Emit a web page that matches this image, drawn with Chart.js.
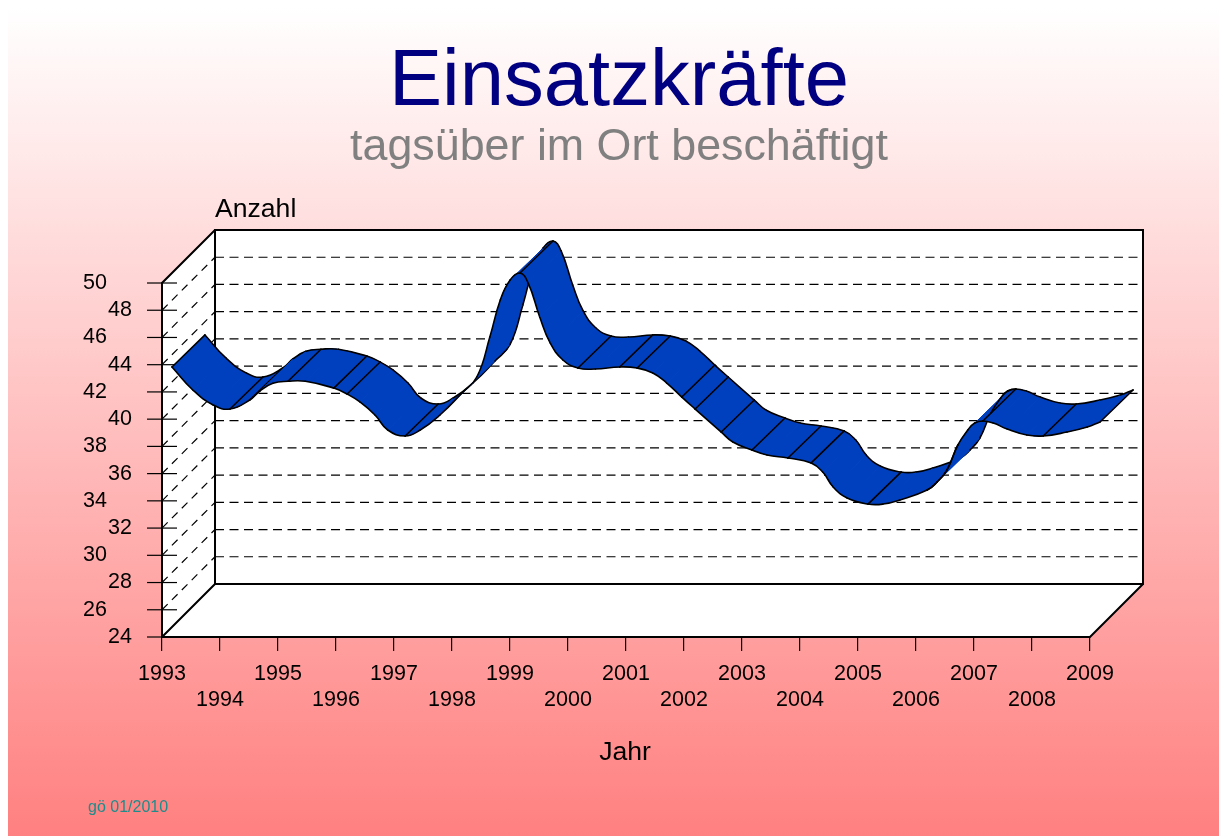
<!DOCTYPE html>
<html>
<head>
<meta charset="UTF-8">
<title>Einsatzkräfte</title>
<script src="https://cdnjs.cloudflare.com/ajax/libs/Chart.js/4.4.1/chart.umd.min.js"></script>
<style>
  html, body { margin: 0; padding: 0; background: #fff; overflow: hidden; }
  #bg { position: absolute; left: 8px; top: 8px; width: 1211px; height: 828px; background: linear-gradient(#ffffff, #ff8080); }
  canvas { position: absolute; left: 0; top: 0; }
</style>
</head>
<body>
<div id="bg"></div>
<canvas id="myChart" width="1219" height="836"></canvas>
<script>
// axis labels
const yearTicks = [1993, 1994, 1995, 1996, 1997, 1998, 1999, 2000, 2001, 2002, 2003, 2004, 2005, 2006, 2007, 2008, 2009];
const valueTicksInner = [24, 28, 32, 36, 40, 44, 48];
const valueTicksOuter = [26, 30, 34, 38, 42, 46, 50];

const years = [1993.00, 1993.36, 1993.71, 1994.00, 1994.34, 1994.52, 1994.74, 1995.00, 1995.30,
  1995.79, 1996.02, 1996.24, 1996.50, 1996.72, 1997.02, 1997.28, 1997.62, 1998.00, 1998.26,
  1998.48, 1998.66, 1998.83, 1999.00, 1999.14, 1999.34, 1999.52, 1999.74, 2000.00, 2000.30,
  2000.72, 2001.02, 2001.29, 2001.53, 2001.79, 2002.02, 2002.47, 2002.67, 2003.00, 2003.26,
  2003.62, 2004.02, 2004.22, 2004.40, 2004.64, 2005.00, 2005.26, 2005.55, 2006.02,
  2006.19, 2006.36, 2006.55, 2006.72, 2006.84, 2006.98, 2007.16, 2007.40, 2007.74, 2008.02,
  2008.43, 2008.78, 2009.00];
const einsatzkraefte = [43.1, 41.41, 40.31, 40.01, 40.67, 41.35, 41.9, 42.05, 42.05,
  41.55, 41.11, 40.53, 39.57, 38.47, 38.03, 38.47, 39.57, 41.19, 42.4,
  45.3, 48.02, 49.49, 50.0, 49.27, 46.77, 44.86, 43.61, 43.02, 42.95,
  43.1, 43.02, 42.66, 41.92, 40.89, 40.01, 38.32, 37.59, 37.0, 36.63,
  36.41, 36.05, 35.38, 34.28, 33.47, 33.03, 33.03, 33.33, 34.06,
  34.65, 35.53, 37.37, 38.47, 38.98, 39.13, 38.98, 38.54, 38.1, 38.03,
  38.32, 38.69, 39.06];
// where the ribbon shows a cross line
const crossLines = [1993.00, 1994.00, 1994.34, 1995.00, 1995.79, 1996.02, 1997.02, 1999.00, 2000.00, 2000.72,
  2001.02, 2001.79, 2002.02, 2002.47, 2003.00, 2003.62, 2004.02, 2005.00, 2006.98, 2008.02, 2009.00];
// edge pieces that stay visible at the 2006/07 fold
const foldFront = [2006.02, 2006.19, 2006.36];
const foldBack = [2006.55, 2006.72, 2006.84];

const FONT = '"Liberation Sans", Arial, sans-serif';
const ribbonColor = '#0040bf';
const points = years.map((y, i) => ({ x: y, y: einsatzkraefte[i] }));

const box3d = {
  id: 'box3d',
  beforeDatasetsDraw(chart) {
    const { ctx, scales } = chart;
    const x0 = scales.x.getPixelForValue(1993), x1 = scales.x.getPixelForValue(2009);
    const y0 = scales.y.getPixelForValue(24), y1 = scales.y.getPixelForValue(50);
    const bx0 = scales.xWall.getPixelForValue(1993), bx1 = scales.xWall.getPixelForValue(2009);
    const by0 = scales.yWall.getPixelForValue(24), by1 = scales.yWall.getPixelForValue(50);

    ctx.save();
    ctx.fillStyle = '#fff';
    ctx.beginPath();
    ctx.moveTo(x0, y1); ctx.lineTo(bx0, by1); ctx.lineTo(bx1, by1); ctx.lineTo(bx1, by0);
    ctx.lineTo(x1, y0); ctx.lineTo(x0, y0); ctx.closePath();
    ctx.fill();

    // dashed grid on back wall and side wall
    ctx.strokeStyle = '#000';
    ctx.lineWidth = 1.2;
    ctx.setLineDash([9, 5.5]);
    valueTicksInner.concat(valueTicksOuter).forEach(v => {
      if (v === 24 || v === 50) return;
      const yb = scales.yWall.getPixelForValue(v);
      ctx.beginPath(); ctx.moveTo(bx0, yb); ctx.lineTo(bx1, yb); ctx.stroke();
    });
    ctx.setLineDash([8, 6]);
    valueTicksInner.concat(valueTicksOuter).forEach(v => {
      if (v === 24 || v === 50) return;
      ctx.beginPath();
      ctx.moveTo(x0, scales.y.getPixelForValue(v));
      ctx.lineTo(bx0, scales.yWall.getPixelForValue(v));
      ctx.stroke();
    });
    ctx.setLineDash([]);

    // tick marks crossing the front edge
    ctx.lineWidth = 1.2;
    valueTicksInner.concat(valueTicksOuter).forEach(v => {
      const yt = scales.y.getPixelForValue(v);
      ctx.beginPath(); ctx.moveTo(x0 - 15, yt); ctx.lineTo(x0 + 15, yt); ctx.stroke();
    });

    // box outline
    ctx.lineWidth = 2;
    ctx.lineJoin = 'miter';
    ctx.strokeRect(bx0, by1, bx1 - bx0, by0 - by1);
    ctx.beginPath();
    ctx.moveTo(bx0, by1); ctx.lineTo(x0, y1); ctx.lineTo(x0, y0); ctx.lineTo(x1, y0); ctx.lineTo(bx1, by0);
    ctx.moveTo(x0, y0); ctx.lineTo(bx0, by0);
    ctx.stroke();
    ctx.restore();
  },
  afterDatasetsDraw(chart) {
    const { ctx, chartArea } = chart;
    const front = chart.getDatasetMeta(0);
    const back = chart.getDatasetMeta(1);
    front.dataset.updateControlPoints(chartArea, 'x');
    back.dataset.updateControlPoints(chartArea, 'x');
    const f = front.data, b = back.data;

    ctx.save();
    ctx.lineJoin = 'round';
    ctx.lineCap = 'round';
    ctx.strokeStyle = '#000';
    ctx.fillStyle = ribbonColor;
    ctx.lineWidth = 1.6;
    const curve = (p, q) => ctx.bezierCurveTo(p.cp2x, p.cp2y, q.cp1x, q.cp1y, q.x, q.y);
    const crossLine = i => {
      ctx.beginPath(); ctx.moveTo(f[i].x, f[i].y); ctx.lineTo(b[i].x, b[i].y); ctx.stroke();
    };
    const edge = (e, i) => {
      ctx.beginPath(); ctx.moveTo(e[i].x, e[i].y); curve(e[i], e[i + 1]); ctx.stroke();
    };

    // facets left to right, so that a later one hides what lies behind it
    for (let i = 0; i < f.length - 1; i++) {
      ctx.beginPath();
      ctx.moveTo(f[i].x, f[i].y);
      curve(f[i], f[i + 1]);
      ctx.lineTo(b[i + 1].x, b[i + 1].y);
      ctx.bezierCurveTo(b[i + 1].cp1x, b[i + 1].cp1y, b[i].cp2x, b[i].cp2y, b[i].x, b[i].y);
      ctx.closePath();
      // filled three times so no hairline stays between two facets
      ctx.fill(); ctx.fill(); ctx.fill();

      edge(f, i);
      edge(b, i);

      if (crossLines.includes(years[i])) crossLine(i);
    }
    crossLine(f.length - 1);
    foldFront.forEach(y => edge(f, years.indexOf(y)));
    foldBack.forEach(y => edge(b, years.indexOf(y)));
    ctx.restore();
  }
};

const pageText = {
  id: 'pageText',
  afterDraw(chart) {
    const { ctx } = chart;
    const put = (text, x, y, size, color, align) => {
      ctx.font = size + 'px ' + FONT;
      ctx.fillStyle = color;
      ctx.textAlign = align;
      ctx.textBaseline = 'alphabetic';
      ctx.fillText(text, x, y);
    };
    ctx.save();
    put('Einsatzkräfte', 619, 105, 79.6, '#000080', 'center');
    put('tagsüber im Ort beschäftigt', 619, 160, 44.8, '#808080', 'center');
    put('Anzahl', 215, 217, 26.6, '#000', 'left');
    put('Jahr', 625, 760, 26.6, '#000', 'center');
    put('gö 01/2010', 88, 812, 16, '#1f8c8c', 'left');
    ctx.restore();
  }
};

const hiddenScale = (axis, min, max) => ({ type: 'linear', axis: axis, display: false, min: min, max: max });
const valueAxis = (ticksList, width, padding) => ({
  type: 'linear',
  position: 'left',
  min: 24,
  max: 53.893,
  grid: { display: false, drawTicks: false },
  border: { display: false },
  afterBuildTicks: axis => { axis.ticks = ticksList.map(v => ({ value: v })); },
  afterFit: axis => { axis.width = width; },
  ticks: {
    autoSkip: false,
    padding: padding,
    color: '#000',
    font: { family: FONT, size: 21.5 },
    callback: v => String(v)
  }
});

new Chart(document.getElementById('myChart'), {
  type: 'line',
  data: {
    datasets: [
      { label: 'vorne', data: points, xAxisID: 'xFront', yAxisID: 'yFront', borderWidth: 0, pointRadius: 0, tension: 0.45, fill: false },
      { label: 'hinten', data: points, xAxisID: 'xBack', yAxisID: 'yBack', borderWidth: 0, pointRadius: 0, tension: 0.45, fill: false }
    ]
  },
  options: {
    responsive: false,
    animation: false,
    layout: { padding: { left: 80, right: 76, top: 230, bottom: 99 } },
    plugins: { legend: { display: false }, tooltip: { enabled: false }, title: { display: false } },
    scales: {
      x: {
        type: 'linear',
        position: 'bottom',
        min: 1993,
        max: 2009.914,
        border: { display: false },
        grid: { drawOnChartArea: false, drawTicks: true, tickLength: 14, color: '#000', lineWidth: 1.2 },
        afterBuildTicks: axis => { axis.ticks = yearTicks.map(v => ({ value: v })); },
        afterFit: axis => { axis.height = 100; },
        ticks: {
          autoSkip: false,
          maxRotation: 0,
          padding: 10,
          color: '#000',
          font: { family: FONT, size: 21.5, lineHeight: 1.2 },
          callback: v => (yearTicks.indexOf(v) % 2 === 0 ? String(v) : ['', String(v)])
        }
      },
      y: valueAxis(valueTicksInner, 54, 30),
      yOuter: valueAxis(valueTicksOuter, 28, 1),
      xFront: hiddenScale('x', 1992.828, 2009.741),
      xBack: hiddenScale('x', 1992.259, 2009.172),
      xWall: hiddenScale('x', 1992.086, 2009),
      yFront: hiddenScale('y', 23.266, 53.159),
      yBack: hiddenScale('y', 20.915, 50.808),
      yWall: hiddenScale('y', 20.107, 50)
    }
  },
  plugins: [box3d, pageText]
});
</script>
</body>
</html>
